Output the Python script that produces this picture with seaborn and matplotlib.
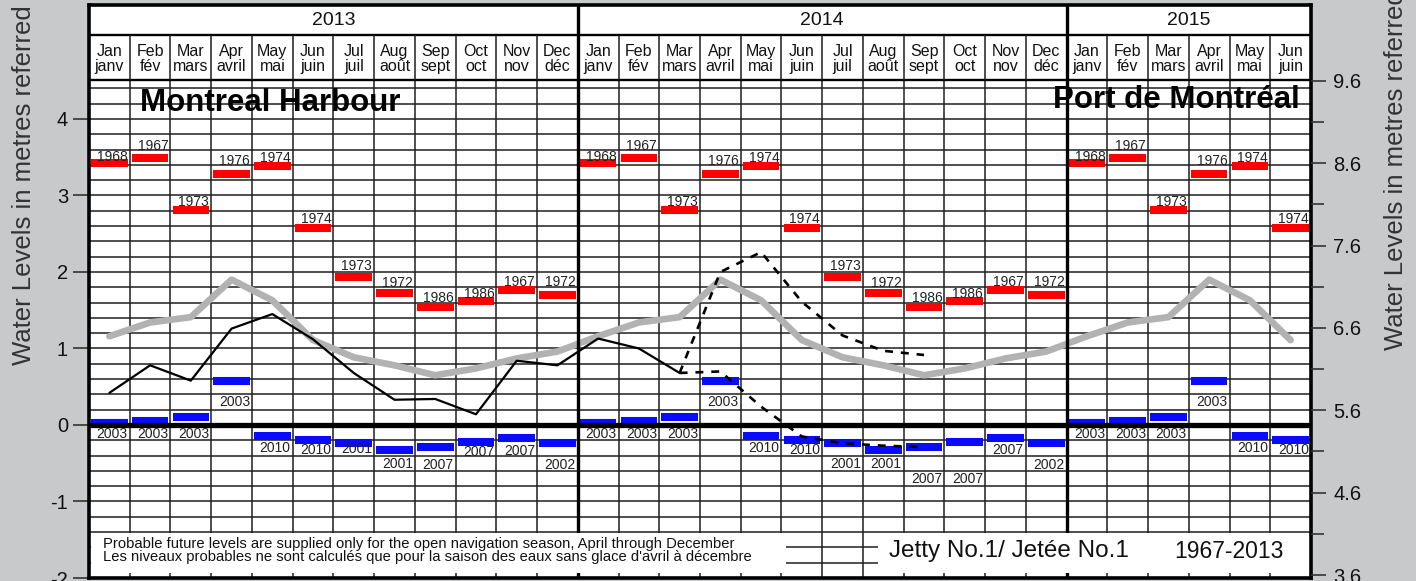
"""
Montreal Harbour monthly water levels chart (Jetty No.1).

Record highs/lows, mean level, observed level and probable future levels.
"""

import numpy as np
import pandas as pd
import matplotlib
matplotlib.use("Agg")
import matplotlib.pyplot as plt
import matplotlib.transforms as mtransforms
from matplotlib.patches import Rectangle
from matplotlib.ticker import FixedLocator, FormatStrFormatter
import seaborn as sns

# Data
MONTHS_EN = ["Jan", "Feb", "Mar", "Apr", "May", "Jun",
             "Jul", "Aug", "Sep", "Oct", "Nov", "Dec"]
MONTHS_FR = ["janv", "fév", "mars", "avril", "mai", "juin",
             "juil", "août", "sept", "oct", "nov", "déc"]
YEARS = ["2013", "2014", "2015"]
YEAR_MONTHS = [12, 12, 6]

RECORD_HIGH = [3.42, 3.49, 2.81, 3.28, 3.38, 2.58, 1.93, 1.72, 1.54, 1.62, 1.77, 1.70]
RECORD_HIGH_YEAR = ["1968", "1967", "1973", "1976", "1974", "1974",
                    "1973", "1972", "1986", "1986", "1967", "1972"]
RECORD_LOW = [0.02, 0.05, 0.11, 0.57, -0.14, -0.20, -0.24, -0.33, -0.29, -0.22, -0.17, -0.23]
RECORD_LOW_YEAR = ["2003", "2003", "2003", "2003", "2010", "2010",
                   "2001", "2001", "2007", "2007", "2007", "2002"]
MEAN_LEVEL = [1.16, 1.34, 1.41, 1.90, 1.63, 1.11, 0.885, 0.78, 0.65, 0.74, 0.87, 0.96]

# observed Jan 2013 - Mar 2014
OBSERVED = [0.42, 0.78, 0.58, 1.26, 1.45, 1.12, 0.68, 0.33, 0.34, 0.14, 0.84, 0.78,
            1.13, 1.00, 0.68]
# probable levels Mar 2014 - Sep 2014
FORECAST_START = 14
FORECAST_HIGH = [0.68, 2.00, 2.26, 1.61, 1.17, 0.97, 0.915]
FORECAST_LOW = [0.68, 0.70, 0.24, -0.15, -0.24, -0.27, -0.29]

# Layout: label offsets in pixels from the bar centre
HIGH_LABEL_RISE = [2.6, 8.5, 3.7, 9.3, 4, 4.2, 7, 6.6, 5.6, 3, 4, 9.3]
LOW_LABEL_DROP = [14.5, 17, 21.5, 25, 16, 14, 10, 18, 22, 14, 17, 26,
                  14.5, 17, 21.5, 25, 16, 14, 25, 18, 36, 41, 16, 26,
                  14.5, 17, 21.5, 25, 16, 14]

RED = "#ff0000"
BLUE = "#0a0aff"
GREY = "#b2b2b2"
INK = "#1e1e1e"
BG = "#c8c9cb"

N = sum(YEAR_MONTHS)
Y_MIN, Y_MAX = -2.0, 5.49
HEAD_BOT, HEAD_MID = 0.869, 0.9476

sns.set_theme(style="ticks")
plt.rcParams["font.family"] = ["Liberation Sans", "DejaVu Sans"]
plt.rcParams["axes.unicode_minus"] = False

months = pd.DataFrame({"x": np.arange(N) + 0.5, "m": np.arange(N) % 12})
months["mean"] = [MEAN_LEVEL[m] for m in months["m"]]
months["high"] = [RECORD_HIGH[m] for m in months["m"]]
months["low"] = [RECORD_LOW[m] for m in months["m"]]

fig = plt.figure(figsize=(14.16, 5.81), dpi=100, facecolor=BG)
ax = fig.add_axes([89 / 1416, 3 / 581, 1222 / 1416, 573 / 581])
ax.set_facecolor("white")
ax.set_xlim(0, N)
ax.set_ylim(Y_MIN, Y_MAX)
trans = mtransforms.blended_transform_factory(ax.transData, ax.transAxes)

# grid
ax.hlines(np.arange(-1.8, 5.41, 0.2), 0, N, color=INK, lw=1.1, zorder=1)
ax.vlines(np.arange(1, N), Y_MIN, Y_MAX, color=INK, lw=1.1, zorder=1)
ax.axhline(0, color="black", lw=3.8, zorder=3.5)

# record highs / lows
ax.hlines(months["high"], months["x"] - 0.45, months["x"] + 0.45,
          color=RED, lw=5.8, zorder=3)
ax.hlines(months["low"], months["x"] - 0.45, months["x"] + 0.45,
          color=BLUE, lw=5.8, zorder=3)
for i in range(N):
    m = int(months["m"].iloc[i])
    x_right = months["x"].iloc[i] + 0.45
    ax.annotate(RECORD_HIGH_YEAR[m], xy=(x_right, RECORD_HIGH[m]),
                xytext=(0, HIGH_LABEL_RISE[m]), textcoords="offset pixels",
                ha="right", va="baseline", fontsize=10, color="#222", zorder=5)
    ax.annotate(RECORD_LOW_YEAR[m], xy=(x_right, RECORD_LOW[m]),
                xytext=(0, -LOW_LABEL_DROP[i]), textcoords="offset pixels",
                ha="right", va="baseline", fontsize=10, color="#222", zorder=5)

# levels
sns.lineplot(data=months, x="x", y="mean", ax=ax, color=GREY, lw=4.8, zorder=4)
obs = pd.DataFrame({"x": np.arange(len(OBSERVED)) + 0.5, "level": OBSERVED})
sns.lineplot(data=obs, x="x", y="level", ax=ax, color="black", lw=1.6, zorder=4.2)
fx = FORECAST_START + np.arange(len(FORECAST_HIGH)) + 0.5
for vals in (FORECAST_HIGH, FORECAST_LOW):
    sns.lineplot(x=fx, y=vals, ax=ax, color="black", lw=1.9,
                 linestyle=(0, (3, 3)), zorder=4.2)

# header with years and months
ax.add_patch(Rectangle((0, HEAD_BOT), N, 1 - HEAD_BOT, transform=trans,
                       facecolor="white", edgecolor="none", zorder=6))
ax.hlines([HEAD_BOT, HEAD_MID], 0, N, transform=trans, color="black", lw=1.7, zorder=7)
ax.vlines(np.arange(1, N), HEAD_BOT, HEAD_MID, transform=trans,
          color=INK, lw=1.1, zorder=7)
start = 0
for year, count in zip(YEARS, YEAR_MONTHS):
    ax.text(start + count / 2, (1 + HEAD_MID) / 2, year, transform=trans,
            ha="center", va="center", fontsize=14, color="#111", zorder=8)
    if start > 0:
        ax.vlines(start, 0, 1, transform=trans, color="black", lw=2.4, zorder=7.2)
    start += count
for i in range(N):
    m = int(months["m"].iloc[i])
    ax.text(months["x"].iloc[i], (HEAD_BOT + HEAD_MID) / 2 - 0.003,
            MONTHS_EN[m] + "\n" + MONTHS_FR[m], transform=trans,
            ha="center", va="center", fontsize=11.5, linespacing=1.0,
            color="#111", zorder=8)

# titles
ax.text(1.25, 4.21, "Montreal Harbour", fontsize=22.5, fontweight="bold",
        va="center", ha="left", color="black", zorder=5)
ax.text(29.73, 4.25, "Port de Montréal", fontsize=22.5, fontweight="bold",
        va="center", ha="right", color="black", zorder=5)

# footer boxes
ax.add_patch(Rectangle((0.06, -1.935), 17.04, 0.523, facecolor="white",
                       edgecolor="none", zorder=7.5))
ax.add_patch(Rectangle((19.36, -1.935), 10.64, 0.523, facecolor="white",
                       edgecolor="none", zorder=7.5))
ax.text(0.34, -1.64,
        "Probable future levels are supplied only for the open navigation season, "
        "April through December\nLes niveaux probables ne sont calculés que pour la "
        "saison des eaux sans glace d'avril à décembre",
        fontsize=10.6, va="center", ha="left", linespacing=0.98, color="#111", zorder=8)
ax.text(19.63, -1.65, "Jetty No.1/ Jetée No.1", fontsize=17.5,
        va="center", ha="left", color="#111", zorder=8)
ax.text(29.34, -1.65, "1967-2013", fontsize=16.5,
        va="center", ha="right", color="#111", zorder=8)

# axes, ticks
ax.set_xlabel("")
ax.set_ylabel("")
ax.set_xticks([])
ax.set_yticks(range(-2, 5))
ax.tick_params(axis="y", direction="out", length=11.5, width=1.2, pad=3.6,
               labelsize=14.5, color="#333", labelcolor="#111")
for sp in ax.spines.values():
    sp.set_visible(True)
    sp.set_color("black")
    sp.set_linewidth(2.6)
    sp.set_zorder(9)

ax2 = ax.twinx()
ax2.set_ylim(3.564, 10.52)
ax2.yaxis.set_major_locator(FixedLocator(np.arange(3.6, 9.7, 1.0)))
ax2.yaxis.set_minor_locator(FixedLocator(np.arange(4.1, 9.2, 1.0)))
ax2.yaxis.set_major_formatter(FormatStrFormatter("%.1f"))
ax2.tick_params(axis="y", which="major", right=True, direction="out", length=11,
                width=1.2, pad=5, labelsize=14.5, color="#333", labelcolor="#111")
ax2.tick_params(axis="y", which="minor", right=True, direction="out", length=9,
                width=1.2, color="#333")
for sp in ax2.spines.values():
    sp.set_visible(False)

fig.text(24 / 1416, 1 - 365 / 581, "Water Levels in metres referred to chart datum",
         rotation=90, ha="center", va="bottom", fontsize=18.5, color="#333")
fig.text(1396 / 1416, 1 - 350 / 581, "Water Levels in metres referred to IGLD 1985",
         rotation=90, ha="center", va="bottom", fontsize=18.5, color="#333")

fig.savefig("out.png", dpi=100, facecolor=fig.get_facecolor())
